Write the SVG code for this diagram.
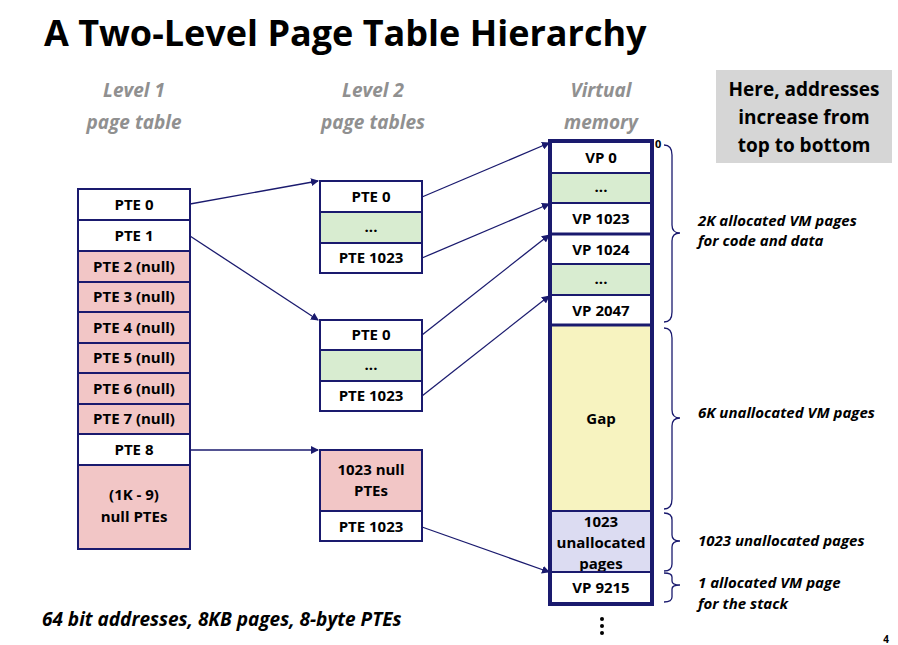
<svg xmlns="http://www.w3.org/2000/svg" width="898" height="645" viewBox="0 0 898 645">
<style>
text{font-family:"Open Sans","Liberation Sans",sans-serif}
.c{font-size:15px;font-weight:bold;text-anchor:middle;fill:#000}
.b{stroke:#1a1a6e;stroke-width:2}
.w{fill:#fff}.p{fill:#f2c6c6}.g{fill:#d8ecd0}.y{fill:#f7f3c0}.l{fill:#dcdcf2}
.h{font-size:19px;font-weight:bold;font-style:italic;fill:#909090;text-anchor:middle}
.n{font-size:15px;font-weight:bold;font-style:italic;fill:#000}
.br{fill:none;stroke:#1a1a6e;stroke-width:1.3}
.a{stroke:#1a1a6e;stroke-width:1.3;fill:none;marker-end:url(#m)}
</style>
<defs><marker id="m" markerWidth="8" markerHeight="8" refX="7" refY="4" orient="auto" markerUnits="userSpaceOnUse"><path d="M0,0L8,4L0,8z" fill="#1a1a6e"/></marker></defs>
<rect width="898" height="645" fill="#fff"/>
<text x="44" y="46" font-size="36" font-weight="bold" fill="#000">A Two-Level Page Table Hierarchy</text>
<text class="h"><tspan x="134" y="97">Level 1</tspan><tspan x="134" y="129">page table</tspan></text>
<text class="h"><tspan x="373" y="97">Level 2</tspan><tspan x="373" y="129">page tables</tspan></text>
<text class="h"><tspan x="601" y="97">Virtual</tspan><tspan x="601" y="129">memory</tspan></text>
<g id="note"><rect x="716" y="70" width="176" height="93" fill="#d6d6d6"/>
<text class="c" font-size="19"><tspan x="804" y="96" style="font-size:19px">Here, addresses</tspan><tspan x="804" y="124" style="font-size:19px">increase from</tspan><tspan x="804" y="152" style="font-size:19px">top to bottom</tspan></text></g>
<g id="l1">
<rect class="b w" x="78" y="189" width="112" height="31"/><text class="c" x="134" y="210">PTE 0</text>
<rect class="b w" x="78" y="220" width="112" height="31"/><text class="c" x="134" y="241">PTE 1</text>
<rect class="b p" x="78" y="251" width="112" height="31"/><text class="c" x="134" y="272">PTE 2 (null)</text>
<rect class="b p" x="78" y="282" width="112" height="30"/><text class="c" x="134" y="302">PTE 3 (null)</text>
<rect class="b p" x="78" y="312" width="112" height="31"/><text class="c" x="134" y="333">PTE 4 (null)</text>
<rect class="b p" x="78" y="343" width="112" height="30"/><text class="c" x="134" y="363">PTE 5 (null)</text>
<rect class="b p" x="78" y="373" width="112" height="31"/><text class="c" x="134" y="394">PTE 6 (null)</text>
<rect class="b p" x="78" y="404" width="112" height="30"/><text class="c" x="134" y="424">PTE 7 (null)</text>
<rect class="b w" x="78" y="434" width="112" height="31"/><text class="c" x="134" y="455">PTE 8</text>
<rect class="b p" x="78" y="465" width="112" height="84"/><text class="c"><tspan x="134" y="500">(1K - 9)</tspan><tspan x="134" y="522">null PTEs</tspan></text>
</g>
<g id="l2a">
<rect class="b w" x="320" y="181" width="102" height="31"/><text class="c" x="371" y="202">PTE 0</text>
<rect class="b g" x="320" y="212" width="102" height="31"/><text class="c" x="371" y="232">...</text>
<rect class="b w" x="320" y="243" width="102" height="30"/><text class="c" x="371" y="263">PTE 1023</text>
</g>
<g id="l2b">
<rect class="b w" x="320" y="320" width="102" height="30"/><text class="c" x="371" y="340">PTE 0</text>
<rect class="b g" x="320" y="350" width="102" height="31"/><text class="c" x="371" y="370">...</text>
<rect class="b w" x="320" y="381" width="102" height="30"/><text class="c" x="371" y="401">PTE 1023</text>
</g>
<g id="l2c">
<rect class="b p" x="320" y="450" width="102" height="61"/><text class="c"><tspan x="371" y="475">1023 null</tspan><tspan x="371" y="496">PTEs</tspan></text>
<rect class="b w" x="320" y="511" width="102" height="30"/><text class="c" x="371" y="532">PTE 1023</text>
</g>
<g id="vm">
<rect class="b w" x="551" y="142" width="100" height="31"/><text class="c" x="601" y="163">VP 0</text>
<rect class="b g" x="551" y="173" width="100" height="30"/><text class="c" x="601" y="192">...</text>
<rect class="b w" x="551" y="203" width="100" height="31"/><text class="c" x="601" y="224">VP 1023</text>
<rect class="b w" x="551" y="234" width="100" height="30"/><text class="c" x="601" y="255">VP 1024</text>
<rect class="b g" x="551" y="264" width="100" height="31"/><text class="c" x="601" y="284">...</text>
<rect class="b w" x="551" y="295" width="100" height="30"/><text class="c" x="601" y="316">VP 2047</text>
<rect class="b y" x="551" y="325" width="100" height="186"/><text class="c" x="601" y="424">Gap</text>
<rect class="b l" x="551" y="511" width="100" height="61"/><text class="c"><tspan x="601" y="527">1023</tspan><tspan x="601" y="548">unallocated</tspan><tspan x="601" y="569">pages</tspan></text>
<rect class="b w" x="551" y="572" width="100" height="31"/><text class="c" x="601" y="593">VP 9215</text>
<rect x="549" y="140" width="104" height="465" fill="none" stroke="#1a1a6e" stroke-width="2"/>
<line x1="551" y1="234" x2="651" y2="234" stroke="#1a1a6e" stroke-width="3"/>
<line x1="551" y1="325" x2="651" y2="325" stroke="#1a1a6e" stroke-width="3"/>
<text x="655" y="148" font-size="11" font-weight="bold">0</text>
<g fill="#000"><circle cx="602" cy="619" r="2"/><circle cx="602" cy="626" r="2"/><circle cx="602" cy="633" r="2"/></g>
</g>
<g id="braces">
<path class="br" d="M664,145 Q672,145 672,155 V225 Q672,233 680,233 Q672,233 672,241 V312 Q672,322 664,322"/>
<path class="br" d="M664,328 Q672,328 672,338 V410 Q672,418 680,418 Q672,418 672,426 V499 Q672,509 664,509"/>
<path class="br" d="M664,513 Q672,513 672,520 V535 Q672,541 680,541 Q672,541 672,547 V564 Q672,571 664,571"/>
<path class="br" d="M664,573 Q672,573 672,577 V581 Q672,585 680,585 Q672,585 672,589 V597 Q672,602 664,602"/>
<text class="n"><tspan x="698" y="226">2K allocated VM pages</tspan><tspan x="698" y="246">for code and data</tspan></text>
<text class="n" x="698" y="418">6K unallocated VM pages</text>
<text class="n" x="698" y="546">1023 unallocated  pages</text>
<text class="n"><tspan x="698" y="588">1 allocated VM page</tspan><tspan x="698" y="609">for the stack</tspan></text>
</g>
<g id="connectors">
<line class="a" x1="190" y1="204" x2="318" y2="181"/>
<line class="a" x1="190" y1="236" x2="318" y2="320"/>
<line class="a" x1="190" y1="450" x2="318" y2="450"/>
<line class="a" x1="422" y1="197" x2="549" y2="143"/>
<line class="a" x1="422" y1="258" x2="549" y2="204"/>
<line class="a" x1="422" y1="335" x2="549" y2="235"/>
<line class="a" x1="422" y1="396" x2="549" y2="296"/>
<line class="a" x1="422" y1="527" x2="549" y2="572"/>
</g>
<text x="42" y="626" font-size="19" font-weight="bold" font-style="italic" fill="#000">64 bit addresses, 8KB pages, 8-byte PTEs</text>
<text x="889" y="643" font-size="10" font-weight="bold" text-anchor="end">4</text>
</svg>
